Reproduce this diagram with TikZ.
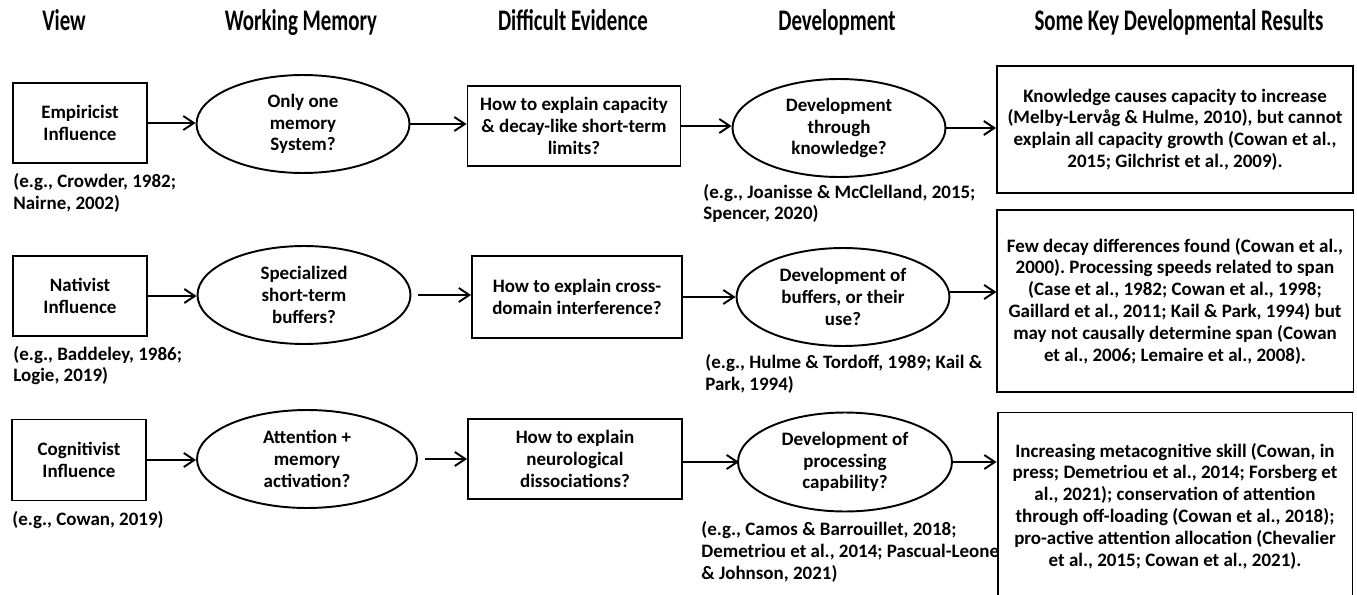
\documentclass[tikz,border=0pt]{standalone}
\usepackage{fontspec}
\setmainfont{Carlito}
\newfontfamily\headfont{Carlito}[FakeStretch=0.7]
\usepackage{tikz}
\usetikzlibrary{shapes.geometric,arrows.meta}
\frenchspacing

\begin{document}
\begin{tikzpicture}[x=0.02cm,y=-0.02cm,>={Straight Barb[length=6pt,width=8pt]},
    every node/.style={font=\bfseries\fontsize{10.8}{12.4}\selectfont},
    head/.style={anchor=base,font=\headfont\bfseries\fontsize{17}{20}\selectfont},
    box/.style={draw,line width=1.1pt,align=center,inner sep=2pt},
    oval/.style={draw,ellipse,line width=1.1pt,align=center,inner sep=0pt,
      minimum width=4.26cm,minimum height=1.96cm},
    cite/.style={anchor=west,align=left,inner sep=0pt},
    link/.style={->,line width=1.1pt}]
  \useasboundingbox (0,0) rectangle (1357,595);

  % column heads
  \node[head] (hview) at (64,31) {View};
  \node[head] (hwm) at (301,31) {Working Memory};
  \node[head] (hev) at (573,31) {Difficult Evidence};
  \node[head] (hdev) at (837,31) {Development};
  \node[head] (hres) at (1179,31) {Some Key Developmental Results};

  % empiricist row
  \node[box,minimum width=2.68cm,minimum height=1.6cm] (v1) at (80,123) {Empiricist\\Influence};
  \node[oval] (w1) at (303,124) {Only one\\memory\\System?};
  \node[box,minimum width=4.26cm,minimum height=1.6cm] (d1) at (574,126)
    {How to explain capacity\\\& decay-like short-term\\limits?};
  \node[oval] (g1) at (839,128) {Development\\through\\knowledge?};
  \node[box,minimum width=7.12cm,minimum height=2.54cm] (r1) at (1175,129.5)
    {Knowledge causes capacity to increase\\(Melby-Lervåg \& Hulme, 2010), but cannot\\explain all capacity growth (Cowan et al.,\\2015; Gilchrist et al., 2009).};
  \node[cite] (c1) at (13,193) {(e.g., Crowder, 1982;\\Nairne, 2002)};
  \node[cite] (c2) at (703,203.5) {(e.g., Joanisse \& McClelland, 2015;\\Spencer, 2020)};

  % nativist row
  \node[box,minimum width=2.68cm,minimum height=1.6cm] (v2) at (80,296) {Nativist\\Influence};
  \node[oval] (w2) at (304,295) {Specialized\\short-term\\buffers?};
  \node[box,minimum width=4.2cm,minimum height=1.64cm] (d2) at (577,297)
    {How to explain cross-\\domain interference?};
  \node[oval] (g2) at (843,297) {Development of\\buffers, or their\\use?};
  \node[box,minimum width=7.14cm,minimum height=3.64cm] (r2) at (1175,301)
    {Few decay differences found (Cowan et al.,\\2000). Processing speeds related to span\\(Case et al., 1982; Cowan et al., 1998;\\Gaillard et al., 2011; Kail \& Park, 1994) but\\may not causally determine span (Cowan\\et al., 2006; Lemaire et al., 2008).};
  \node[cite] (c3) at (13,365.5) {(e.g., Baddeley, 1986;\\Logie, 2019)};
  \node[cite] (c4) at (705,374) {(e.g., Hulme \& Tordoff, 1989; Kail \&\\Park, 1994)};

  % cognitivist row
  \node[box,minimum width=2.68cm,minimum height=1.62cm] (v3) at (79,460) {Cognitivist\\Influence};
  \node[oval,minimum width=4.4cm] (w3) at (307,459) {Attention +\\memory\\activation?};
  \node[box,minimum width=4.28cm,minimum height=1.6cm] (d3) at (575,459)
    {How to explain\\neurological\\dissociations?};
  \node[oval,minimum width=4.28cm,minimum height=1.98cm] (g3) at (845,462) {Development of\\processing\\capability?};
  \node[box,minimum width=7.1cm,minimum height=3.74cm] (r3) at (1175,506)
    {Increasing metacognitive skill (Cowan, in\\press; Demetriou et al., 2014; Forsberg et\\al., 2021); conservation of attention\\through off-loading (Cowan et al., 2018);\\pro-active attention allocation (Chevalier\\et al., 2015; Cowan et al., 2021).};
  \node[cite] (c5) at (12,520) {(e.g., Cowan, 2019)};
  \node[cite] (c6) at (701,552) {(e.g., Camos \& Barrouillet, 2018;\\Demetriou et al., 2014; Pascual-Leone\\\& Johnson, 2021)};

  % arrows
  \draw[link] (v1.east) -- (v1.east -| w1.west);
  \draw[link] (w1.east) -- (w1.east -| d1.west);
  \draw[link] (d1.east) -- (d1.east -| g1.west);
  \draw[link] (g1.east) -- (g1.east -| r1.west);
  \draw[link] (v2.east) -- (v2.east -| w2.west);
  \draw[link,shorten <=4pt] (w2.east) -- (w2.east -| d2.west);
  \draw[link] (d2.east) -- (d2.east -| g2.west);
  \draw[link] (g2.east) ++(0,-5) -- ++(46,0);
  \draw[link] (v3.east) -- (v3.east -| w3.west);
  \draw[link,shorten <=4pt] (w3.east) -- (w3.east -| d3.west);
  \draw[link] (d3.east) ++(0,3) -- ++(56,0);
  \draw[link] (g3.east) -- (g3.east -| r3.west);
\end{tikzpicture}
\end{document}
